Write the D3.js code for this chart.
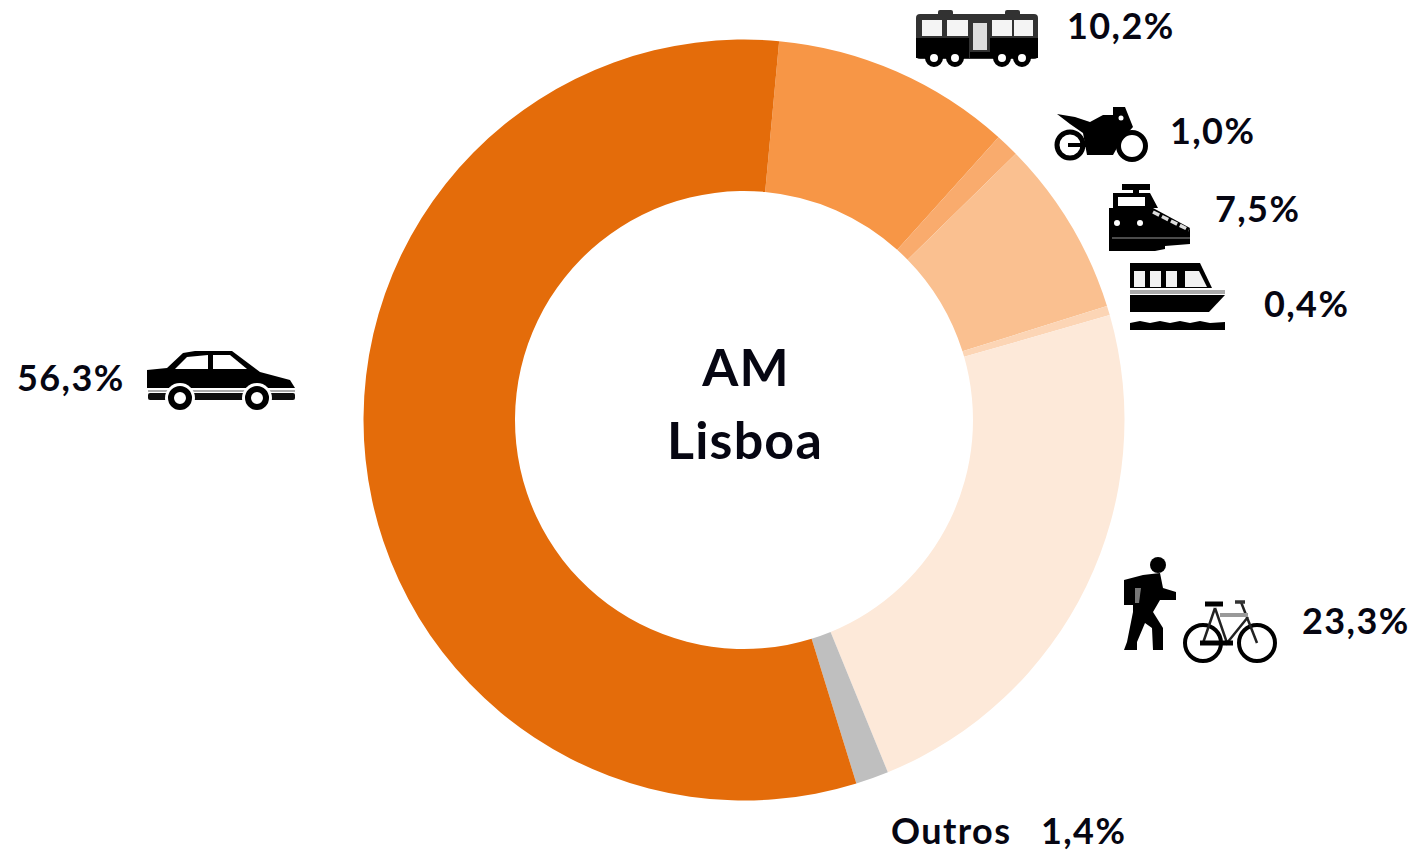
<!DOCTYPE html>
<html>
<head>
<meta charset="utf-8">
<script src="https://cdn.jsdelivr.net/npm/d3@7"></script>
<style>
  html, body { margin: 0; background: #fff; }
  text { font-family: Lato, "Open Sans", sans-serif; font-weight: 700; fill: #060612; }
</style>
</head>
<body>
<svg id="chart" width="1417" height="852"></svg>
<script>
const modes = ["Autocarro", "Motociclo", "Comboio", "Barco", "Pedonal e bicicleta", "Outros", "Automóvel"];
const shares = [10.2, 1.0, 7.5, 0.4, 23.3, 1.4, 56.3];
const sliceColors = ["#F79646", "#F9AB6D", "#FAC090", "#FCD5B5", "#FDE9D9", "#BFBFBF", "#E46C0A"];
const centerLines = ["AM", "Lisboa"];

const svg = d3.select("#chart");
const fmt = (v) => v.toFixed(1).replace(".", ",") + "%";

const blur = svg.append("defs").append("filter").attr("id", "soft");
blur.append("feGaussianBlur").attr("stdDeviation", 0.6);

const pie = d3
  .pie()
  .sort(null)
  .value((d) => d)
  .startAngle((5.3 * Math.PI) / 180)
  .endAngle((365.3 * Math.PI) / 180);

const arc = d3.arc().innerRadius(229).outerRadius(380.5);

svg
  .append("g")
  .attr("transform", "translate(744,420)")
  .selectAll("path")
  .data(pie(shares))
  .join("path")
  .attr("fill", (d, i) => sliceColors[i])
  .attr("d", arc);

// Center title
svg
  .selectAll(".center-text")
  .data(centerLines)
  .join("text")
  .attr("class", "center-text")
  .attr("text-anchor", "middle")
  .attr("x", (d, i) => (i === 0 ? 746 : 745))
  .attr("y", (d, i) => 386 + i * 73)
  .style("font-size", "52px")
  .style("letter-spacing", "1.2px")
  .text((d) => d);

// Percent labels, same order as modes
const labelX = [1067, 1170, 1215, 1264, 1302, 1041, 17];
const labelY = [39, 144, 222, 317, 634, 844, 391];
svg
  .selectAll(".pct")
  .data(shares)
  .join("text")
  .attr("class", "pct")
  .attr("x", (d, i) => labelX[i])
  .attr("y", (d, i) => labelY[i])
  .style("font-size", "36px")
  .style("letter-spacing", "1.4px")
  .text((d) => fmt(d));

svg
  .append("text")
  .attr("x", 891)
  .attr("y", 844)
  .style("font-size", "36px")
  .style("letter-spacing", "1.4px")
  .text(modes[5]);

// Icons, hand traced
const icons = svg.append("g").attr("class", "icons").attr("filter", "url(#soft)");
const poly = (pts, fill) => icons.append("polygon").attr("points", pts).attr("fill", fill || "#000");
const box = (x, y, w, h, fill, r) =>
  icons.append("rect").attr("x", x).attr("y", y).attr("width", w).attr("height", h).attr("rx", r || 0).attr("fill", fill || "#000");
const ring = (cx, cy, r, sw, fill) =>
  icons.append("circle").attr("cx", cx).attr("cy", cy).attr("r", r)
    .attr("fill", fill || "#fff").attr("stroke", "#000").attr("stroke-width", sw);
const stroke = (d, sw, color) =>
  icons.append("path").attr("d", d).attr("fill", "none").attr("stroke", color || "#000").attr("stroke-width", sw);

// bus
box(916, 14, 122, 45, "#333", 4);
box(938, 10, 15, 6, "#333", 2);
box(1005, 10, 15, 6, "#333", 2);
[[922, 20, 20], [947, 20, 21], [992, 20, 20], [1014, 20, 19]].forEach(([x, y, w]) => box(x, y, w, 16, "#f4f4f4"));
box(973, 23, 14, 27, "#ddd");
box(916, 38, 53, 20);
box(990, 38, 48, 20);
box(970, 52, 20, 6);
[934, 955, 1002, 1022].forEach((x) => ring(x, 58, 6.5, 5));

// motorbike
ring(1070, 145, 13, 5);
ring(1132, 146, 13.5, 5);
poly("1057,114 1075,117 1090,122 1103,115 1113,115 1113,107 1125,107 1133,127 1122,139 1113,155 1087,155 1083,133 1070,124");
box(1068, 143, 18, 4);
icons.append("circle").attr("cx", 1121).attr("cy", 118).attr("r", 2.5).attr("fill", "#fff");

// train
box(1122, 184, 28, 6);
box(1133, 190, 6, 4);
poly("1113,193 1150,193 1158,208 1113,208");
box(1118, 197, 27, 9, "#fff");
poly("1109,208 1153,208 1190,228 1190,244 1165,246 1165,249 1155,251 1109,251");
[1117, 1140].forEach((x) => icons.append("circle").attr("cx", x).attr("cy", 223).attr("r", 3).attr("fill", "#fff"));
stroke("M1153,212 L1189,230", 3.5, "#ddd").attr("stroke-dasharray", "7 3");
stroke("M1112,238 L1190,238", 1.5, "#666");

// boat
poly("1130,263 1200,263 1212,288 1130,288");
[[1134, 11], [1150, 11], [1166, 11]].forEach(([x, w]) => box(x, 271, w, 16, "#f2f2f2"));
poly("1185,271 1199,271 1207,287 1185,287", "#f2f2f2");
box(1130, 290, 95, 4, "#aaa");
poly("1130,295 1225,295 1209,312 1130,312");
poly("1130,323 1140,321 1150,323 1160,321 1170,323 1180,321 1190,323 1200,321 1210,323 1225,322 1225,330 1130,330");

// walker
icons.append("circle").attr("cx", 1158).attr("cy", 565).attr("r", 8).attr("fill", "#000");
poly("1124,580 1143,575 1160,573 1163,588 1176,592 1176,600 1160,600 1153,612 1163,628 1163,650 1153,650 1152,628 1145,623 1137,642 1137,650 1124,650 1127,642 1133,612 1133,605 1124,605");
poly("1135,588 1141,588 1139,603 1135,603", "#777");

// bicycle
ring(1203, 643, 18, 4, "none");
ring(1257, 643, 18, 4, "none");
stroke("M1215,608 L1227,643 L1248,617 M1215,608 L1203,643 M1241,602 L1257,643", 2.5, "#222");
stroke("M1220,615 L1248,615", 4, "#999");
stroke("M1200,643 L1233,643", 5);
stroke("M1205,604 L1223,604", 5);
stroke("M1235,602 L1245,602", 3.5, "#333");

// car
poly("147,370 167,368 183,353 195,351 232,351 260,372 290,380 295,388 147,388");
poly("175,369 187,357 208,355 208,369", "#fff");
poly("213,355 230,355 247,369 213,369", "#fff");
box(148, 390, 147, 2, "#aaa");
box(148, 393, 147, 7, "#111", 2);
[180, 257].forEach((x) => {
  icons.append("circle").attr("cx", x).attr("cy", 398).attr("r", 15).attr("fill", "#fff");
  ring(x, 398, 9, 6);
});
</script>
</body>
</html>
